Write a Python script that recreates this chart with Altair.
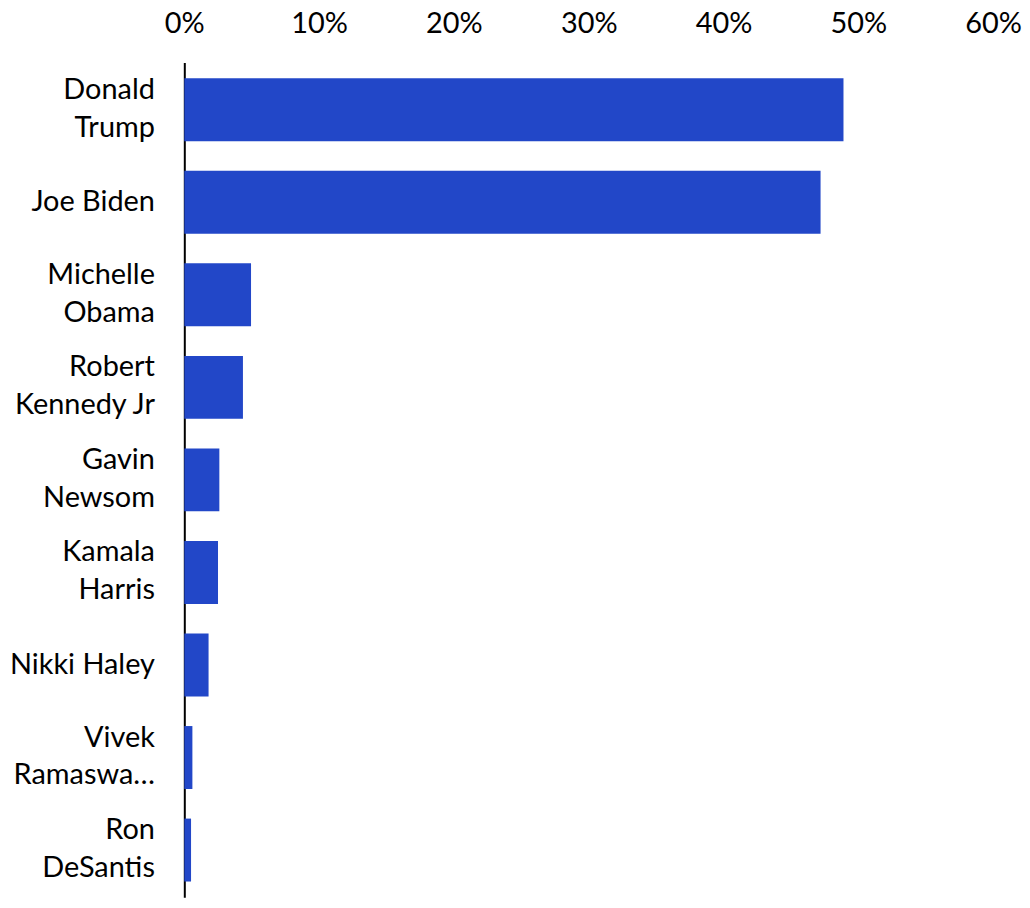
import altair as alt
import pandas as pd

candidates = ["Donald|Trump", "Joe Biden", "Michelle|Obama", "Robert|Kennedy Jr",
              "Gavin|Newsom", "Kamala|Harris", "Nikki Haley", "Vivek|Ramaswa…",
              "Ron|DeSantis"]
shares = [0.489, 0.472, 0.0495, 0.0435, 0.026, 0.025, 0.018, 0.006, 0.005]
tick_values = [0, 0.1, 0.2, 0.3, 0.4, 0.5, 0.6]

df = pd.DataFrame({"candidate": candidates, "share": shares})

FONT = "Lato"
two_line = "indexof(datum.value, '|') >= 0"

chart = alt.Chart(df).mark_bar(color="#2247C8").encode(
    x=alt.X("share:Q",
            scale=alt.Scale(domain=[0, 0.6], nice=False),
            axis=alt.Axis(orient="top", format=".0%", values=tick_values,
                          title=None, grid=False, ticks=False, domain=False,
                          labelFont=FONT, labelFontSize=29, labelColor="#000000",
                          labelPadding=24, labelFlush=False, labelOverlap=False,
                          minExtent=50, maxExtent=50)),
    y=alt.Y("candidate:N", sort=candidates,
            scale=alt.Scale(paddingInner=0.32, paddingOuter=0.17),
            axis=alt.Axis(title=None, ticks=False, domain=True,
                          domainColor="#000000", domainWidth=2,
                          labelExpr="split(datum.label, '|')",
                          labelBaseline=alt.condition(two_line, alt.value("line-bottom"), alt.value("middle")),
                          labelFont=FONT, labelFontSize=29, labelColor="#000000",
                          labelLineHeight=38, labelPadding=30, labelLimit=200,
                          minExtent=177, maxExtent=177)),
).properties(width=812, height=838, padding=0).configure_view(stroke=None)

chart.save("out.html", embed_options={"renderer": "svg", "actions": False})
